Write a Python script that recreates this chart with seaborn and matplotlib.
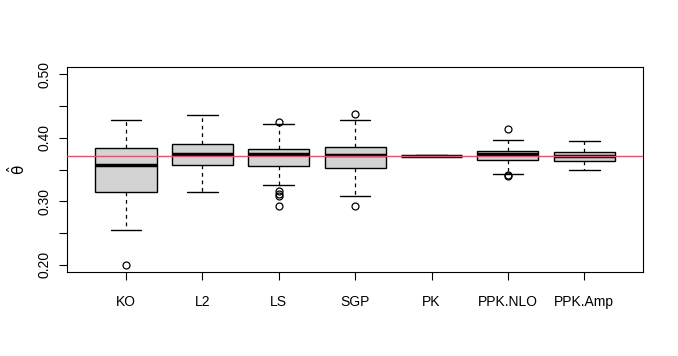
import matplotlib
matplotlib.use('Agg')
import matplotlib.pyplot as plt
import seaborn as sns

# summary statistics
methods = ['KO', 'L2', 'LS', 'SGP', 'PK', 'PPK.NLO', 'PPK.Amp']
whislo = [0.2544, 0.3144, 0.3249, 0.3088, 0.3706, 0.3433, 0.3500]
q1 = [0.3139, 0.3574, 0.3552, 0.3516, 0.3711, 0.3646, 0.3641]
med = [0.3578, 0.3751, 0.3751, 0.3735, 0.3715, 0.3751, 0.3715]
q3 = [0.3840, 0.3903, 0.3824, 0.3850, 0.3719, 0.3787, 0.3777]
whishi = [0.4284, 0.4351, 0.4216, 0.4273, 0.3724, 0.3959, 0.3944]
fliers = [
    [0.1998],
    [],
    [0.4248, 0.3155, 0.3113, 0.3082, 0.2925],
    [0.4378, 0.2925],
    [],
    [0.4132, 0.3417, 0.3395],
    [],
]
true_theta = 0.3719

sns.set_style('white')
plt.rcParams['font.family'] = ['Liberation Sans', 'DejaVu Sans']
plt.rcParams['text.color'] = 'black'
plt.rcParams['axes.labelcolor'] = 'black'
plt.rcParams['xtick.color'] = 'black'
plt.rcParams['ytick.color'] = 'black'
plt.rcParams['mathtext.fontset'] = 'custom'
plt.rcParams['mathtext.it'] = 'Liberation Sans'

fig = plt.figure(figsize=(6.78, 3.56), dpi=100)
ax = fig.add_axes([67 / 678, 1 - 272.3 / 356, (643.3 - 67) / 678, (272.3 - 66.7) / 356])

stats = []
for i, m in enumerate(methods):
    stats.append(dict(label=m, whislo=whislo[i], q1=q1[i], med=med[i],
                      q3=q3[i], whishi=whishi[i], fliers=fliers[i]))

positions = list(range(1, len(methods) + 1))
ax.bxp(stats, positions=positions, widths=0.8, patch_artist=True,
       boxprops=dict(facecolor='#D3D3D3', edgecolor='black', linewidth=1),
       medianprops=dict(color='black', linewidth=2.5),
       whiskerprops=dict(color='black', linewidth=0.9, linestyle=(0, (3, 3))),
       capprops=dict(color='black', linewidth=1),
       capwidths=0.4,
       flierprops=dict(marker='o', markerfacecolor='none', markeredgecolor='black',
                       markersize=5, markeredgewidth=0.9))

ax.axhline(true_theta, color='#DF536B', linewidth=1, zorder=5)

ax.set_xlim(0.228, 7.772)
ax.set_ylim(0.188, 0.512)
ax.set_xticks(positions)
ax.set_xticklabels(methods, fontsize=10)
ax.set_yticks([0.20, 0.25, 0.30, 0.35, 0.40, 0.45, 0.50])
ax.set_yticklabels(['0.20', '', '0.30', '', '0.40', '', '0.50'], rotation=90,
                   va='center', fontsize=10)
ax.tick_params(axis='both', direction='out', length=6, width=0.8, color='black',
               labelcolor='black', bottom=True, left=True)
ax.tick_params(axis='x', pad=10)
ax.tick_params(axis='y', pad=5)
for s in ax.spines.values():
    s.set_visible(True)
    s.set_color('black')
    s.set_linewidth(0.8)
ax.set_ylabel(r'$\hat{\mathrm{\theta}}$', fontsize=11, color='black')
ax.yaxis.set_label_coords(-0.068, 0.5)

fig.savefig('out.png', dpi=100)
